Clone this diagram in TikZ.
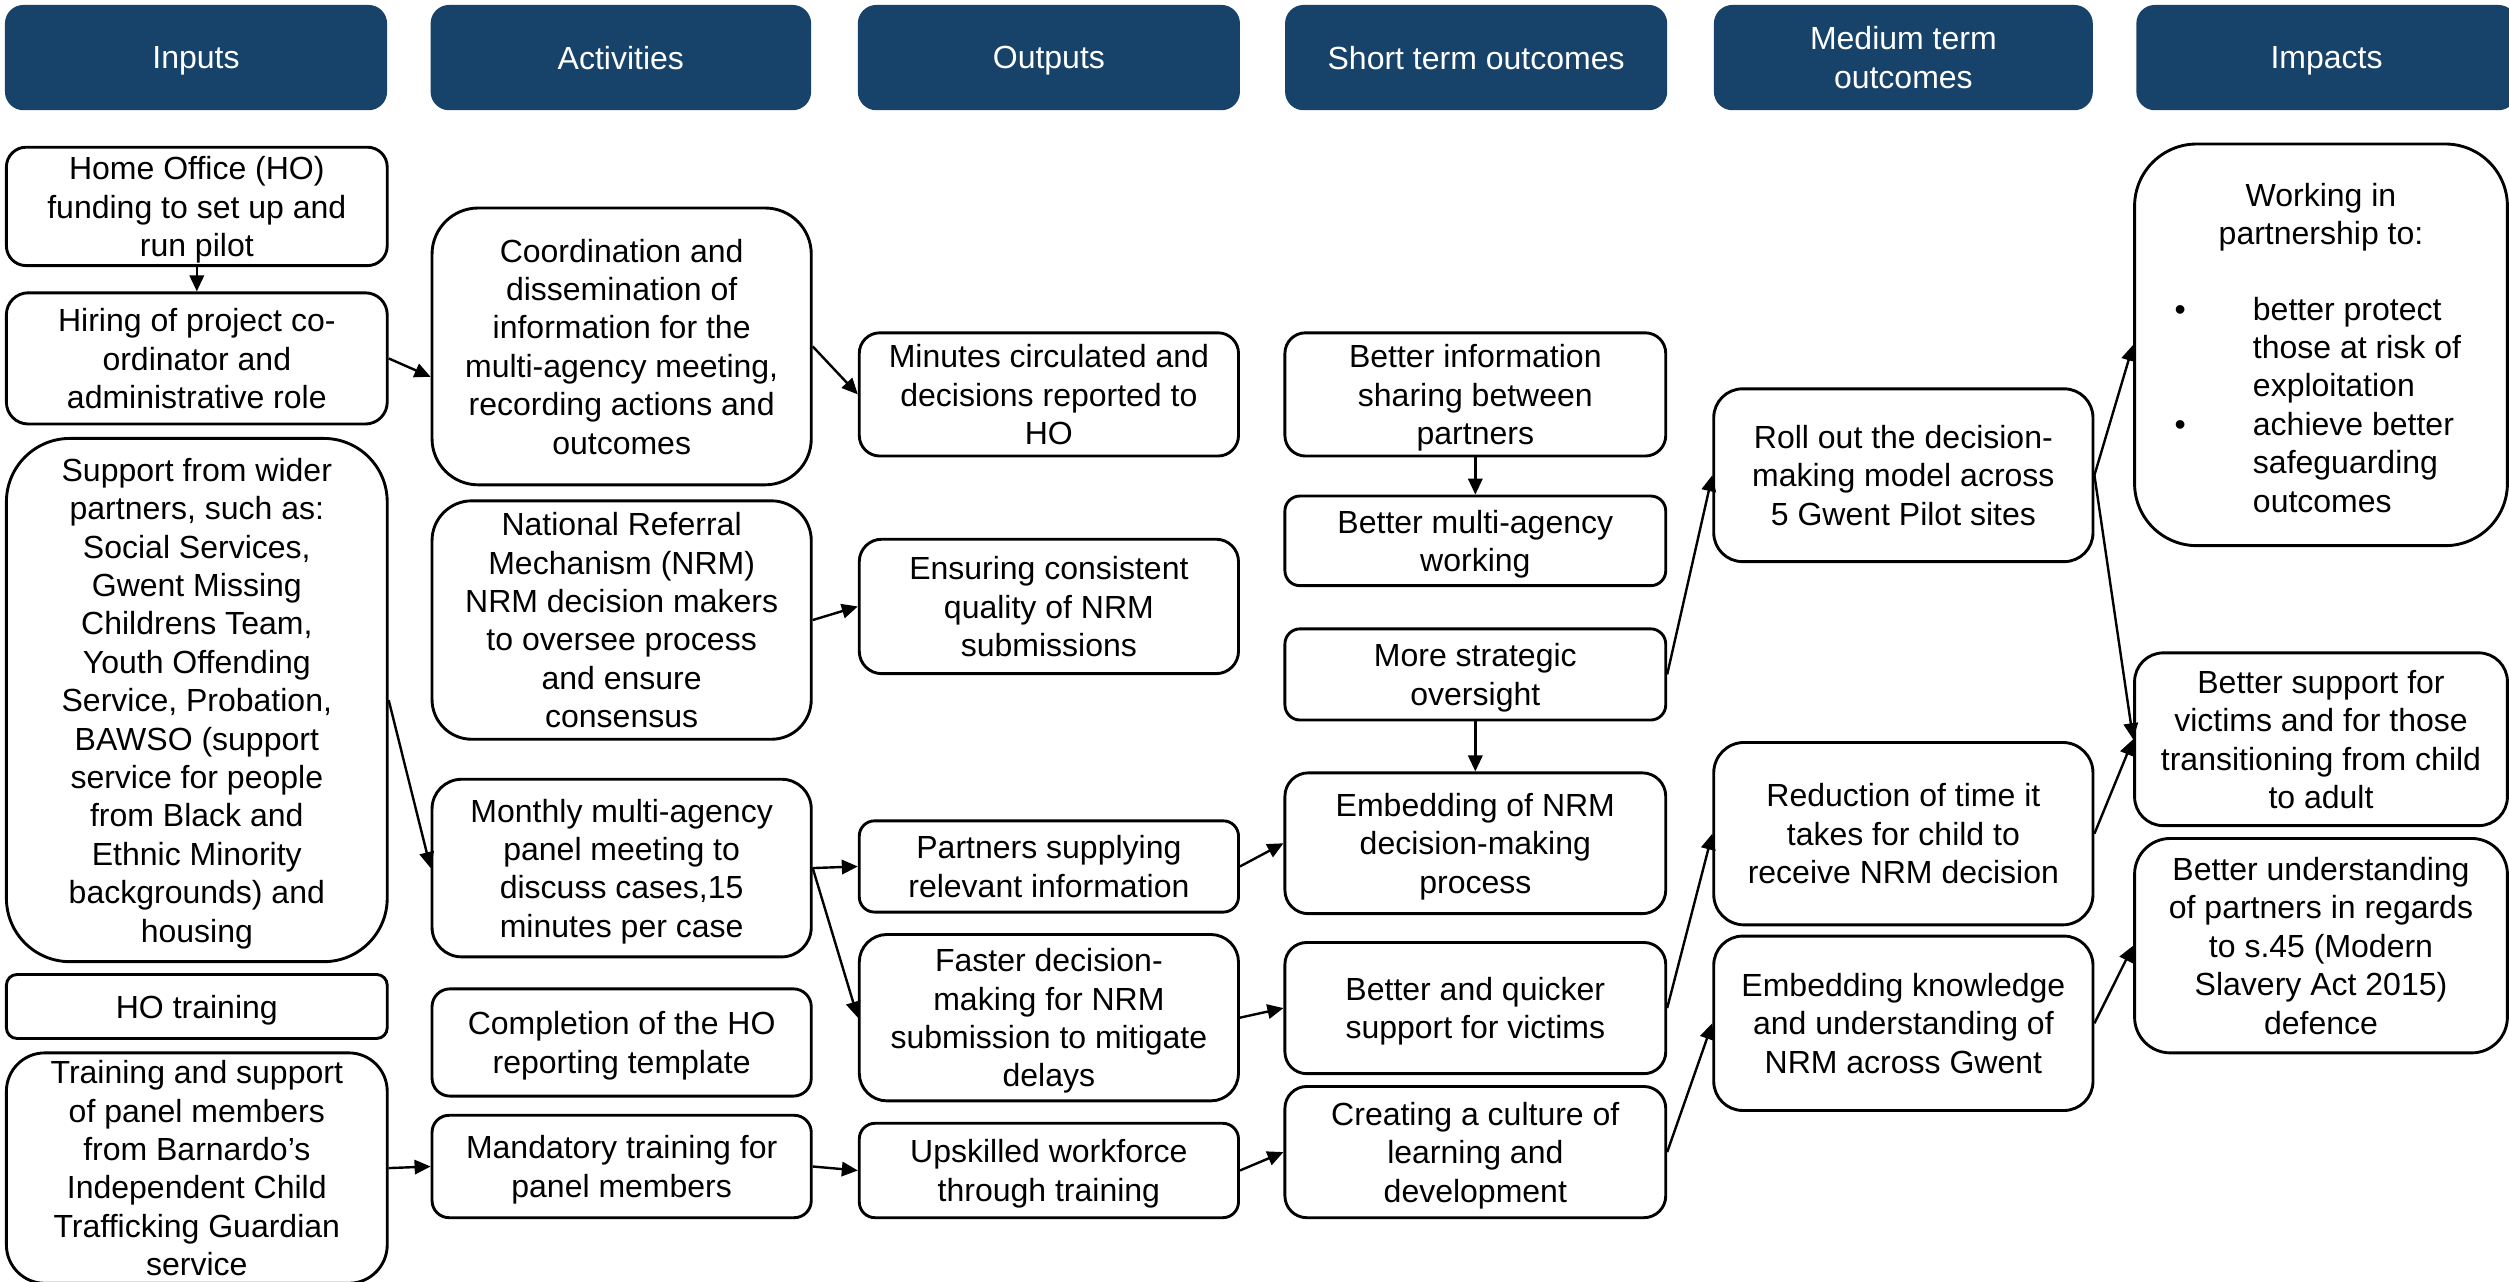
\documentclass[tikz,border=0pt]{standalone}
\usepackage{fontspec}
\setmainfont{Liberation Sans}
\usetikzlibrary{arrows.meta,calc}
\definecolor{hdr}{HTML}{17436B}
\tikzset{
  box/.style={draw=black, line width=0.9pt, align=center, inner sep=0pt,
    text depth=0pt, font=\fontsize{10}{12}\selectfont},
  hbox/.style={box, fill=hdr, draw=hdr, text=white},
  conn/.style={line width=0.75pt, -{Triangle[length=5pt,width=4.5pt]}}
}
\newcommand\bx[7][box]{%
  \pgfmathsetmacro\bw{(#5-#3)*0.5}%
  \pgfmathsetmacro\bh{(#6-#4)*0.5}%
  \pgfmathsetmacro\br{min(\bw,\bh)/6}%
  \node[#1, minimum width=\bw pt, minimum height=\bh pt, rounded corners=\br pt]
    (#2) at ({(#3+#5)/2},{(#4+#6)/2}) {#7};}
\begin{document}
\begin{tikzpicture}[x=0.5pt,y=-0.5pt]
\useasboundingbox (0,0) rectangle (1568,801);
% headers
\bx[hbox]{H1}{4}{4}{241}{68}{Inputs}
\bx[hbox]{H2}{270}{4}{506}{68}{Activities}
\bx[hbox]{H3}{537}{4}{774}{68}{Outputs}
\bx[hbox]{H4}{804}{4}{1041}{68}{Short term outcomes}
\bx[hbox]{H5}{1072}{4}{1307}{68}{Medium term\\outcomes}
\bx[hbox]{H6}{1336}{4}{1572}{68}{Impacts}
% inputs
\bx{A1}{4}{92}{242}{166}{Home Office (HO)\\funding to set up and\\run pilot}
\bx{A2}{4}{183}{242}{265}{Hiring of project co-\\ordinator and\\administrative role}
\bx{A3}{4}{274}{242}{601}{Support from wider\\partners, such as:\\Social Services,\\Gwent Missing\\Childrens Team,\\Youth Offending\\Service, Probation,\\BAWSO (support\\service for people\\from Black and\\Ethnic Minority\\backgrounds) and\\housing}
\bx{A4}{4}{609}{242}{649}{HO training}
\bx{A5}{4}{658}{242}{802}{Training and support\\of panel members\\from Barnardo’s\\Independent Child\\Trafficking Guardian\\service}
% activities
\bx{B1}{270}{130}{507}{303}{Coordination and\\dissemination of\\information for the\\multi-agency meeting,\\recording actions and\\outcomes}
\bx{B2}{270}{313}{507}{462}{National Referral\\Mechanism (NRM)\\NRM decision makers\\to oversee process\\and ensure\\consensus}
\bx{B3}{270}{487}{507}{598}{Monthly multi-agency\\panel meeting to\\discuss cases,15\\minutes per case}
\bx{B4}{270}{618}{507}{685}{Completion of the HO\\reporting template}
\bx{B5}{270}{697}{507}{761}{Mandatory training for\\panel members}
% outputs
\bx{C1}{537}{208}{774}{285}{Minutes circulated and\\decisions reported to\\HO}
\bx{C2}{537}{337}{774}{421}{Ensuring consistent\\quality of NRM\\submissions}
\bx{C3}{537}{513}{774}{570}{Partners supplying\\relevant information}
\bx{C4}{537}{584}{774}{688}{Faster decision-\\making for NRM\\submission to mitigate\\delays}
\bx{C5}{537}{702}{774}{761}{Upskilled workforce\\through training}
% short term
\bx{D1}{803}{208}{1041}{285}{Better information\\sharing between\\partners}
\bx{D2}{803}{310}{1041}{366}{Better multi-agency\\working}
\bx{D3}{803}{393}{1041}{450}{More strategic\\oversight}
\bx{D4}{803}{483}{1041}{571}{Embedding of NRM\\decision-making\\process}
\bx{D5}{803}{589}{1041}{671}{Better and quicker\\support for victims}
\bx{D6}{803}{679}{1041}{761}{Creating a culture of\\learning and\\development}
% medium term
\bx{E1}{1071}{243}{1308}{351}{Roll out the decision-\\making model across\\5 Gwent Pilot sites}
\bx{E2}{1071}{464}{1308}{578}{Reduction of time it\\takes for child to\\receive NRM decision}
\bx{E3}{1071}{585}{1308}{694}{Embedding knowledge\\and understanding of\\NRM across Gwent}
% impacts
\bx[box,text depth=]{F1}{1334}{90}{1567}{341}{\begin{tabular}{@{}p{24.5pt}@{}l@{\hspace{2pt}}}
\multicolumn{2}{@{}c@{}}{\rule{0pt}{12.6pt}Working in}\\
\multicolumn{2}{@{}c@{}}{partnership to:}\\[11.5pt]
\textbullet & better protect\\
 & those at risk of\\
 & exploitation\\
\textbullet & achieve better\\
 & safeguarding\\
 & outcomes
\end{tabular}}
\bx{F2}{1334}{408}{1567}{516}{Better support for\\victims and for those\\transitioning from child\\to adult}
\bx{F3}{1334}{524}{1567}{658}{Better understanding\\of partners in regards\\to s.45 (Modern\\Slavery Act 2015)\\defence}
% connectors
\draw[conn] (A1.south) -- (A2.north);
\draw[conn] (A2.east) -- ($(B1.west)+(0,19)$);
\draw[conn] (B1.east) -- (C1.west);
\draw[conn] (B2.east) -- (C2.west);
\draw[conn] (A3.east) -- (B3.west);
\draw[conn] (B3.east) -- (C3.west);
\draw[conn] (B3.east) -- (C4.west);
\draw[conn] (A5.east) -- (B5.west);
\draw[conn] (B5.east) -- (C5.west);
\draw[conn] (C3.east) -- (D4.west);
\draw[conn] (C4.east) -- (D5.west);
\draw[conn] (C5.east) -- (D6.west);
\draw[conn] (D1.south) -- (D2.north);
\draw[conn] (D3.south) -- (D4.north);
\draw[conn] (D3.east) -- (E1.west);
\draw[conn] (D5.east) -- (E2.west);
\draw[conn] (D6.east) -- (E3.west);
\draw[conn] (E1.east) -- (F1.west);
\draw[conn] (E1.east) -- (F2.west);
\draw[conn] (E2.east) -- (F2.west);
\draw[conn] (E3.east) -- (F3.west);
\end{tikzpicture}
\end{document}
